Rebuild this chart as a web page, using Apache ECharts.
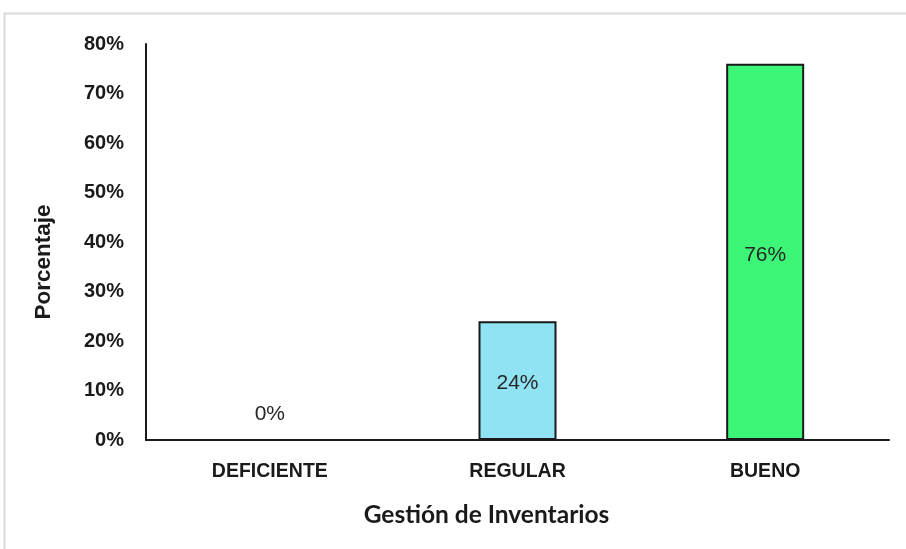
<!DOCTYPE html>
<html>
<head>
<meta charset="utf-8">
<script src="https://cdn.jsdelivr.net/npm/echarts@6/dist/echarts.min.js"></script>
<style>
  html, body { margin: 0; padding: 0; background: #fff; }
  #chart { width: 906px; height: 549px; }
</style>
</head>
<body>
<div id="chart"></div>
<script>
// Niveles de gestión de inventarios y su porcentaje
const categories = ['DEFICIENTE', 'REGULAR', 'BUENO'];
const percentages = [0, 24, 76];
const barColors = ['#8fe3f2', '#8fe3f2', '#3df576'];
const yTicks = [0, 10, 20, 30, 40, 50, 60, 70, 80];

const chart = echarts.init(document.getElementById('chart'));

chart.setOption({
  animation: false,
  backgroundColor: '#ffffff',
  graphic: [{
    type: 'rect',
    shape: { x: 4.5, y: 13.5, width: 920, height: 560 },
    style: { fill: 'none', stroke: '#d9d9d9', lineWidth: 2 },
    silent: true
  }],
  grid: { left: 146, right: 17, top: 44, bottom: 109 },
  xAxis: {
    type: 'category',
    data: categories,
    name: 'Gestión de Inventarios',
    nameLocation: 'middle',
    nameGap: 63,
    nameTextStyle: {
      fontFamily: 'Lato', fontWeight: 'bold', fontSize: 24.5, color: '#1a1a1a',
      padding: [0, 62, 0, 0]
    },
    axisLine: { lineStyle: { color: '#1a1a1a', width: 2 } },
    axisTick: { show: false },
    axisLabel: {
      margin: 22,
      fontFamily: 'Liberation Sans',
      fontWeight: 'bold',
      fontSize: 19.5,
      color: '#1a1a1a'
    }
  },
  yAxis: {
    type: 'value',
    min: yTicks[0],
    max: yTicks[yTicks.length - 1],
    interval: 10,
    name: 'Porcentaje',
    nameLocation: 'middle',
    nameGap: 91,
    nameTextStyle: {
      fontFamily: 'Liberation Sans', fontWeight: 'bold', fontSize: 22.5, color: '#1a1a1a',
      padding: [0, 40, 0, 0]
    },
    axisLine: { show: true, lineStyle: { color: '#1a1a1a', width: 2 } },
    axisTick: { show: false },
    splitLine: { show: false },
    axisLabel: {
      margin: 22,
      formatter: v => v + '%',
      fontFamily: 'Liberation Sans',
      fontWeight: 'bold',
      fontSize: 20,
      color: '#1a1a1a'
    }
  },
  series: [{
    type: 'bar',
    barWidth: 78,
    data: percentages.map((v, i) => ({
      value: v,
      itemStyle: { color: barColors[i], borderColor: '#1a1a1a', borderWidth: v > 0 ? 2 : 0 },
      label: v > 0 ? { position: 'inside', offset: [0, 3] } : { position: 'top', distance: 15 }
    })),
    label: {
      show: true,
      formatter: p => p.value + '%',
      fontFamily: 'Liberation Sans',
      fontSize: 21,
      color: '#262626'
    }
  }]
});
</script>
</body>
</html>
